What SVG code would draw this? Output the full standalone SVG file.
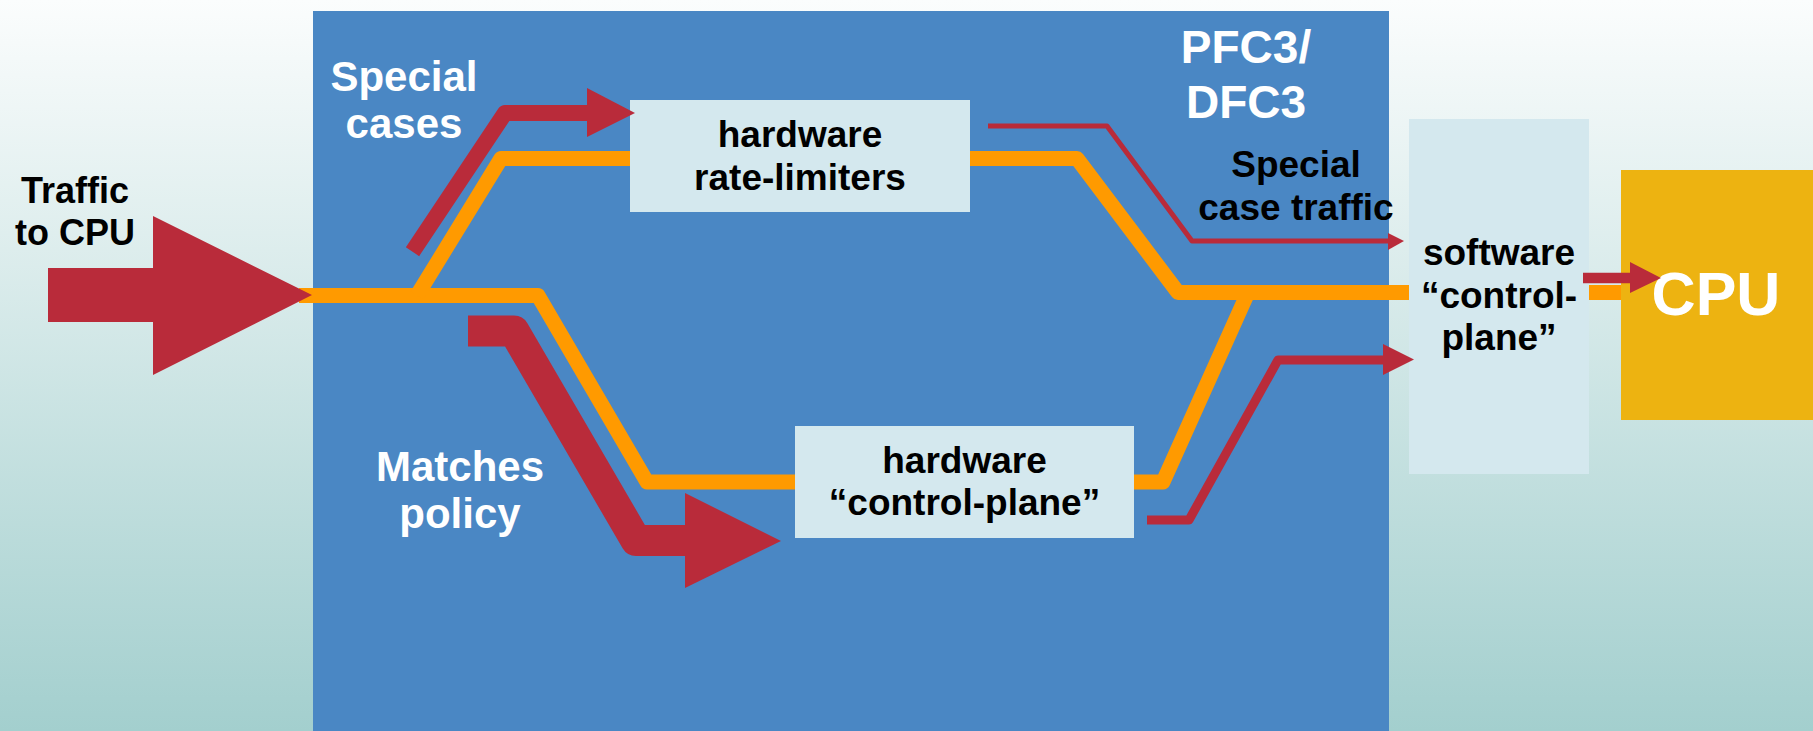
<svg xmlns="http://www.w3.org/2000/svg" width="1813" height="731" viewBox="0 0 1813 731">
  <defs>
    <linearGradient id="bg" x1="0" y1="0" x2="0" y2="1">
      <stop offset="0" stop-color="#fbfdfd"/>
      <stop offset="0.08" stop-color="#f4f9f9"/>
      <stop offset="1" stop-color="#a3cfce"/>
    </linearGradient>
  </defs>
  <style>
    text { font-family: "Liberation Sans", Arial, sans-serif; font-weight: bold; text-anchor: middle; }
    .dark { fill: #000000; font-size: 37px; }
    .light { fill: #ffffff; font-size: 42px; }
    .box { fill: #d4e8ee; }
    .flow { fill: none; stroke: #ff9a00; stroke-width: 15; stroke-linejoin: round; stroke-linecap: butt; }
    .red { fill: none; stroke: #b92b3a; stroke-linejoin: round; stroke-linecap: butt; }
    .head { fill: #b92b3a; }
  </style>

  <!-- backdrop -->
  <rect x="0" y="0" width="1813" height="731" fill="url(#bg)"/>

  <!-- PFC3/DFC3 forwarding engine -->
  <g id="pfc3">
    <rect x="313" y="11" width="1076" height="730" fill="#4a87c4"/>
    <text class="light" x="1246" y="63" style="font-size:46px">PFC3/</text>
    <text class="light" x="1246" y="118" style="font-size:46px">DFC3</text>
  </g>

  <!-- free labels -->
  <g id="traffic-label">
    <text class="dark" x="75" y="203" style="font-size:36px">Traffic</text>
    <text class="dark" x="75" y="245" style="font-size:36px">to CPU</text>
  </g>
  <g id="special-label">
    <text class="light" x="404" y="91">Special</text>
    <text class="light" x="404" y="138">cases</text>
  </g>
  <g id="matches-label">
    <text class="light" x="460" y="481">Matches</text>
    <text class="light" x="460" y="528">policy</text>
  </g>
  <g id="special-traffic-label">
    <text class="dark" x="1296" y="177">Special</text>
    <text class="dark" x="1296" y="220">case traffic</text>
  </g>

  <g id="rate-limiters">
    <rect class="box" x="630" y="100" width="340" height="112"/>
    <text class="dark" x="800" y="147">hardware</text>
    <text class="dark" x="800" y="190">rate-limiters</text>
  </g>

  <g id="hw-control-plane">
    <rect class="box" x="795" y="426" width="339" height="112"/>
    <text class="dark" x="964.5" y="473">hardware</text>
    <text class="dark" x="964.5" y="515">“control-plane”</text>
  </g>

  <g id="sw-control-plane">
    <rect class="box" x="1409" y="119" width="180" height="355"/>
    <text class="dark" x="1499" y="265">software</text>
    <text class="dark" x="1499" y="308">“control-</text>
    <text class="dark" x="1499" y="350">plane”</text>
  </g>

  <g id="cpu">
    <rect x="1621" y="170" width="192" height="250" fill="#edb311"/>
    <text x="1716" y="315" fill="#ffffff" style="font-size:61px">CPU</text>
  </g>

  <!-- traffic paths; orange segments stop at the box edges -->
  <g id="connectors">
    <path class="flow" d="M299 295.5 H538 L647 482 H795"/>
    <path class="flow" d="M1134 482 H1163 L1248 292.5"/>
    <path class="flow" d="M417 295.5 L501 158.5 H630"/>
    <path class="flow" d="M970 158.5 H1077 L1178 292.5 H1409"/>
    <path class="flow" d="M1589 292.5 H1621"/>

    <!-- incoming traffic -->
    <polygon class="head" points="48,268 153,268 153,216 312,295 153,375 153,322 48,322"/>

    <!-- special cases into rate-limiters -->
    <path class="red" stroke-width="16" d="M412.5 251.7 L505 113 H590"/>
    <polygon class="head" points="587,88 635,113 587,137"/>

    <!-- policy matches into hardware control-plane -->
    <path class="red" stroke-width="31" d="M468 331 H514 L636 540.5 H690"/>
    <polygon class="head" points="685,493 781,541 685,588"/>

    <!-- special case traffic to software -->
    <path class="red" stroke-width="5" d="M988 126 H1107 L1192 241 H1390"/>
    <polygon class="head" points="1388,233 1404,241 1388,250"/>

    <!-- control-plane output to software -->
    <path class="red" stroke-width="9" d="M1147 520 H1189 L1278 360 H1386"/>
    <polygon class="head" points="1383,344 1414,359.5 1383,375"/>

    <!-- software to CPU -->
    <path class="red" stroke-width="10.6" d="M1583 278 H1632"/>
    <polygon class="head" points="1630,262 1661,278 1630,293"/>
  </g>
</svg>
